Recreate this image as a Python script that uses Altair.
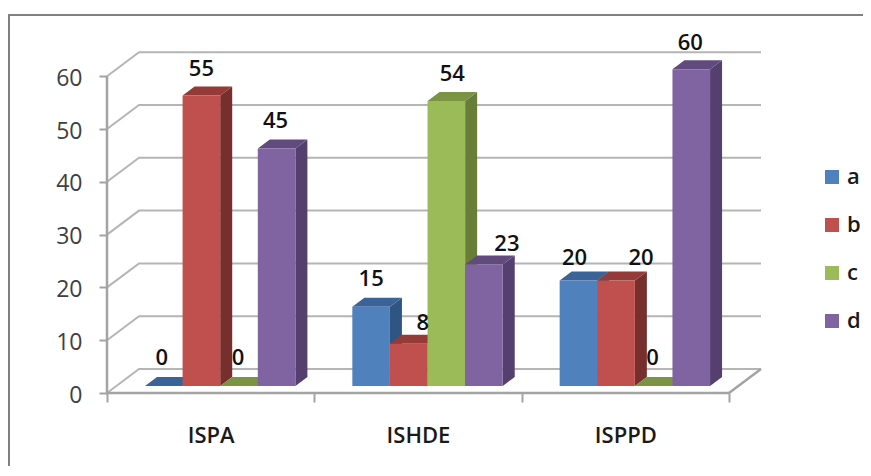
import altair as alt
import pandas as pd
import json

# ---- chart values -------------------------------------------------------
CATEGORIES = ["ISPA", "ISHDE", "ISPPD"]
SERIES = ["a", "b", "c", "d"]
VALUES_A = [0, 15, 20]
VALUES_B = [55, 8, 20]
VALUES_C = [0, 54, 0]
VALUES_D = [45, 23, 60]
TICKS = [0, 10, 20, 30, 40, 50, 60]

FRONT = ["#4F81BD", "#C0504D", "#9BBB59", "#8064A2"]
SIDE = ["#2F5583", "#772F2D", "#677D38", "#553F6F"]
TOP = ["#3A6497", "#943B38", "#7A9444", "#614A7E"]

# ---- layout (pixels of the drawing, turned into scale units below) ------
PX_X = 207.33          # one category along the x axis
PX_Y = 5.28            # one value unit along the y axis
WALL_DX, WALL_DY = 32 / PX_X, 24 / PX_Y     # depth of the floor
BAR_DX, BAR_DY = 12 / PX_X, 9 / PX_Y        # depth of one bar
FLOOR = 7 / PX_Y       # bars stand a little behind the front edge
START = 38 / PX_X      # first bar inside a category
BAR_W = 37.6 / PX_X
X_END = 654 / PX_X
Y_END = 341 / PX_Y
# moved data labels (dx, distance above the bar's front top), in pixels
LABEL_MOVE = {
    (0, 0): (-2, 28), (0, 1): (0, 27), (0, 2): (-1, 28), (0, 3): (-1, 27),
    (1, 0): (0, 28), (1, 1): (14, 21), (1, 2): (6, 27), (1, 3): (23, 21),
    (2, 0): (-4, 22), (2, 1): (25, 22), (2, 2): (-1, 28), (2, 3): (-1, 26),
}
GRID = "#B5B5B5"
AXIS = "#A3A3A3"
FONT = "Open Sans"

x_scale = alt.Scale(domain=[0, X_END], nice=False, zero=False)
y_scale = alt.Scale(domain=[0, Y_END], nice=False, zero=False)
color_scale = alt.Scale(domain=SERIES, range=FRONT)

label_expr = "datum.value % 1 == 0 ? '' : " + json.dumps(CATEGORIES) + "[floor(datum.value)]"
x_axis = alt.Axis(
    values=[0, 0.5, 1, 1.5, 2, 2.5, 3],
    labelExpr=label_expr,
    domain=False, grid=False, tickSize=9, tickWidth=2, tickColor=AXIS,
    tickOpacity={"condition": {"test": "datum.value % 1 == 0", "value": 1}, "value": 0},
    labelFont=FONT, labelFontSize=22, labelFontWeight=600, labelColor="#1a1a1a",
    labelPadding=23, labelFlush=False, labelOverlap=False, labelAngle=0, title=None,
)
y_axis = alt.Axis(
    values=TICKS, domain=False, grid=False, tickSize=8, tickWidth=2, tickColor=AXIS,
    labelFont=FONT, labelFontSize=23, labelColor="#404040", labelPadding=17, labelOffset=2, title=None,
)
X = alt.X("x:Q", scale=x_scale, axis=x_axis)
Y = alt.Y("y:Q", scale=y_scale, axis=y_axis, stack=None)

layers = []

# ---- walls -------------------------------------------------------------
grid_rows = []
for t in TICKS:
    grid_rows += [
        {"t": t, "x": 0, "y": t},
        {"t": t, "x": WALL_DX, "y": t + WALL_DY},
        {"t": t, "x": X_END, "y": t + WALL_DY},
    ]
layers.append(alt.Chart(pd.DataFrame(grid_rows)).mark_line(color=GRID, strokeWidth=2, clip=False).encode(
    x=X, y=Y, detail="t:N", order="x:Q"))

edges = pd.DataFrame([
    {"e": "left", "x": 0, "y": 0}, {"e": "left", "x": 0, "y": 60},
    {"e": "front", "x": 0, "y": 0}, {"e": "front", "x": 3, "y": 0},
    {"e": "right", "x": 3, "y": 0}, {"e": "right", "x": 3 + WALL_DX, "y": WALL_DY},
])
layers.append(alt.Chart(edges).mark_line(color=AXIS, strokeWidth=2.5, clip=False).encode(
    x=X, y=Y, detail="e:N", order="y:Q"))

# ---- bars, painted left to right ---------------------------------------
all_values = [VALUES_A, VALUES_B, VALUES_C, VALUES_D]
labels = []
for g, cat in enumerate(CATEGORIES):
    for s, name in enumerate(SERIES):
        v = all_values[s][g]
        xl = g + START + s * BAR_W
        xr = xl + BAR_W
        low = FLOOR
        high = v + FLOOR
        side = pd.DataFrame([
            {"x": xr, "y": high, "y2": low},
            {"x": xr + BAR_DX, "y": high + BAR_DY, "y2": low + BAR_DY},
        ])
        top = pd.DataFrame([
            {"x": xl, "y": high, "y2": high},
            {"x": xl + BAR_DX, "y": high + BAR_DY, "y2": high},
            {"x": xr, "y": high + BAR_DY, "y2": high},
            {"x": xr + BAR_DX, "y": high + BAR_DY, "y2": high + BAR_DY},
        ])
        front = pd.DataFrame([{"x": xl, "x2": xr, "y": high, "y2": low, "series": name}])
        layers.append(alt.Chart(side).mark_area(color=SIDE[s]).encode(x=X, y=Y, y2="y2:Q"))
        layers.append(alt.Chart(top).mark_area(color=TOP[s]).encode(x=X, y=Y, y2="y2:Q"))
        layers.append(alt.Chart(front).mark_rect().encode(
            x=X, x2="x2:Q", y=Y, y2="y2:Q",
            color=alt.Color(
                "series:N", scale=color_scale,
                legend=alt.Legend(
                    title=None, orient="none", legendX=714, legendY=114, padding=0,
                    symbolType="square", symbolSize=196, symbolStrokeWidth=0,
                    labelFont=FONT, labelFontSize=22, labelFontWeight=600, labelColor="#1a1a1a",
                    labelOffset=4, rowPadding=26,
                ),
            ),
        ))
        dx, above = LABEL_MOVE[(g, s)]
        labels.append({
            "x": (xl + xr) / 2 + dx / PX_X,
            "y": high + above / PX_Y,
            "text": str(v),
        })

layers.append(alt.Chart(pd.DataFrame(labels)).mark_text(
    font=FONT, fontSize=22, fontWeight=600, color="#111111", baseline="middle", align="center",
).encode(x=X, y=Y, text="text:N"))

# ---- picture frame (outside the plot area) -----------------------------
layers.append(alt.Chart(pd.DataFrame({"k": [0]})).mark_rule(color="#808080", strokeWidth=2, clip=False).encode(
    x=alt.value(-98), y=alt.value(-37), y2=alt.value(414)))
layers.append(alt.Chart(pd.DataFrame({"k": [0]})).mark_rule(color="#808080", strokeWidth=2, clip=False).encode(
    x=alt.value(-99), x2=alt.value(756), y=alt.value(-37)))

chart = alt.layer(*layers).properties(
    width=654, height=341,
    padding={"left": 99, "top": 44, "right": 102, "bottom": 73},
    autosize=alt.AutoSizeParams(type="none"),
    background="white",
).configure_view(stroke=None)

chart.save("out.html", embed_options={"renderer": "svg", "actions": False})
